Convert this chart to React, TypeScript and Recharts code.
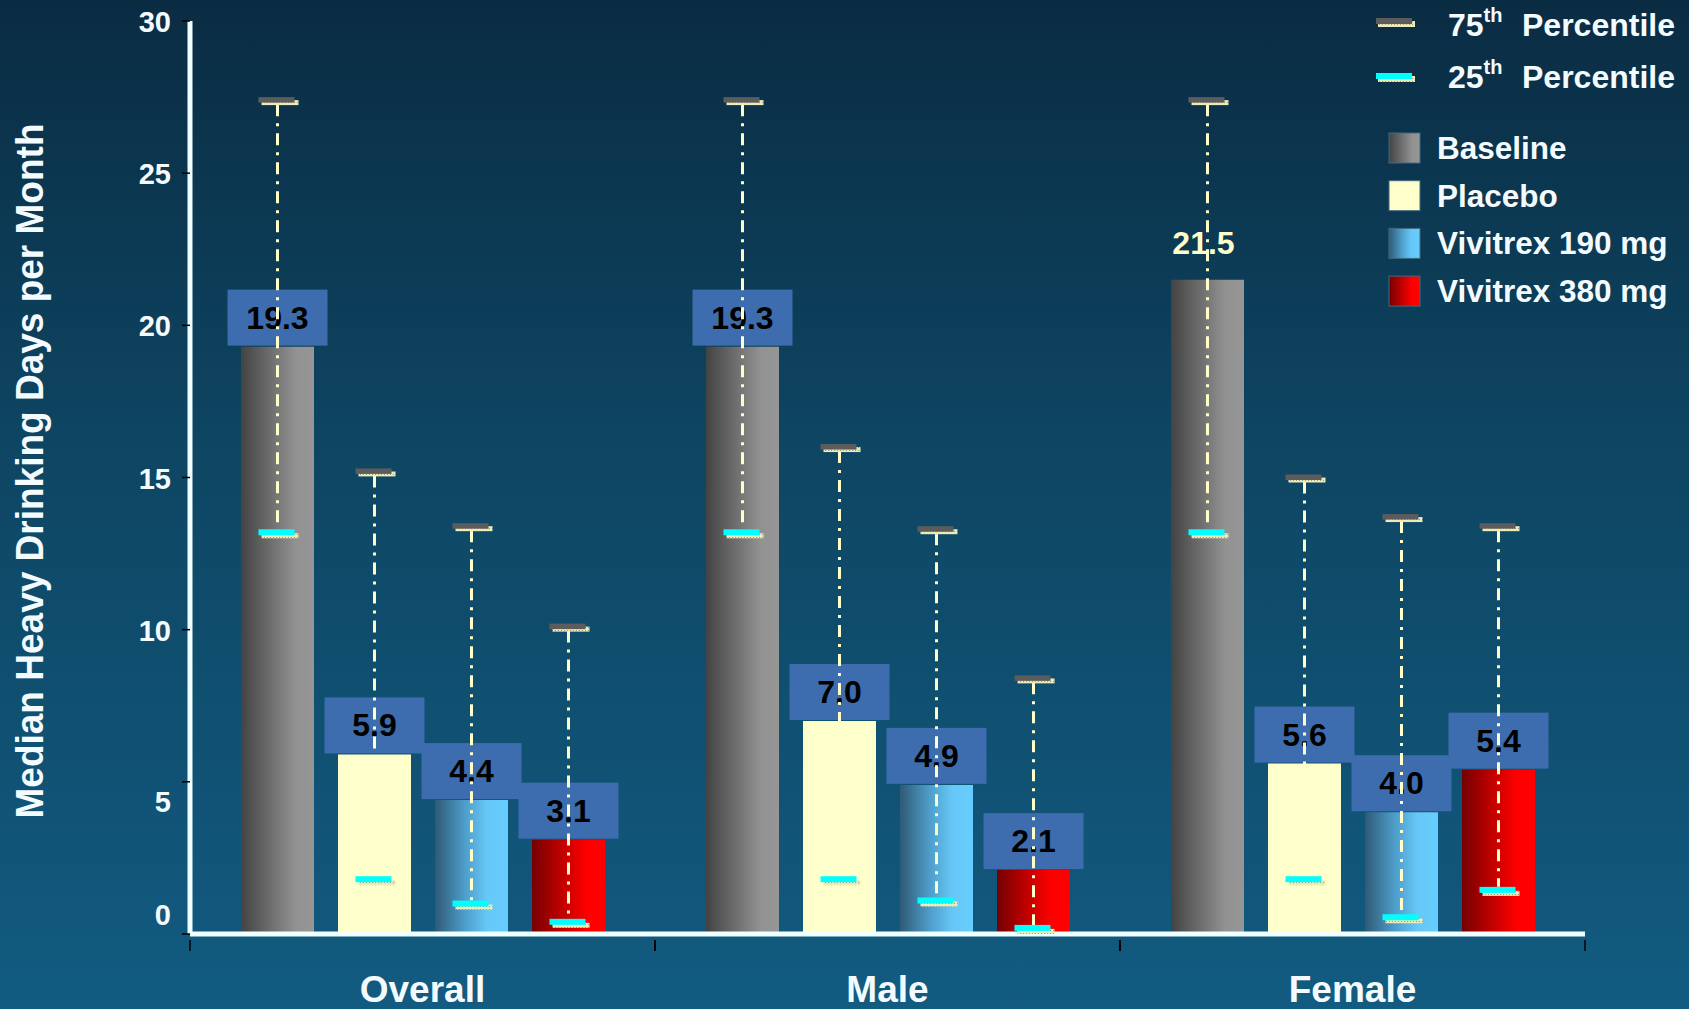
import { BarChart, Bar, XAxis, YAxis, LabelList, Legend } from "recharts";

// values
const categories = ["Overall", "Male", "Female"];
const baseline = [19.3, 19.3, 21.5];
const placebo = [5.9, 7.0, 5.6];
const viv190 = [4.4, 4.9, 4.0];
const viv380 = [3.1, 2.1, 5.4];

// 75th / 25th percentile markers
const baselineP75 = [27.4, 27.4, 27.4];
const placeboP75 = [15.2, 16.0, 15.0];
const viv190P75 = [13.4, 13.3, 13.7];
const viv380P75 = [10.1, 8.4, 13.4];
const baselineP25 = [13.2, 13.2, 13.2];
const placeboP25 = [1.8, 1.8, 1.8];
const viv190P25 = [1.0, 1.1, 0.55];
const viv380P25 = [0.4, 0.2, 1.45];

const yTicks = [0, 5, 10, 15, 20, 25, 30];

const data = categories.map((name, i) => ({
  name,
  baseline: baseline[i],
  placebo: placebo[i],
  viv190: viv190[i],
  viv380: viv380[i],
}));

const series = [
  { key: "baseline", name: "Baseline", fill: "url(#gBase)", p75: baselineP75, p25: baselineP25 },
  { key: "placebo", name: "Placebo", fill: "#ffffcc", p75: placeboP75, p25: placeboP25 },
  { key: "viv190", name: "Vivitrex 190 mg", fill: "url(#gV190)", p75: viv190P75, p25: viv190P25 },
  { key: "viv380", name: "Vivitrex 380 mg", fill: "url(#gV380)", p75: viv380P75, p25: viv380P25 },
];

const FONT = "'Liberation Sans', Arial, sans-serif";
const WHITE = "#f4fbff";
const CREAM = "#ffffcc";

const makeLabel = (s: (typeof series)[number]) => (props: any) => {
  const vb = props.viewBox ?? props;
  const { x, y, width, height } = vb;
  const value = Number(props.value);
  const i = props.index;
  const cx = x + width / 2;
  const base = y + height;
  const unit = height / value;
  const y75 = base - s.p75[i] * unit;
  const y25 = base - s.p25[i] * unit;
  // the tall female baseline bar has its value written plain, without a box
  const plain = s.key === "baseline" && i === 2;
  return (
    <g>
      {plain ? (
        <text x={cx - 4} y={y - 26} textAnchor="middle" fontSize={32} fontWeight="bold" fill={CREAM} fontFamily={FONT}>
          {value.toFixed(1)}
        </text>
      ) : (
        <g>
          <rect x={cx - 50} y={y - 57} width={100} height={56} fill="#3d6daf" />
          <text x={cx} y={y - 18} textAnchor="middle" fontSize={32} fontWeight="bold" fill="#000" fontFamily={FONT}>
            {value.toFixed(1)}
          </text>
        </g>
      )}
      <line x1={cx} x2={cx} y1={y75 + 4} y2={y25 - 3} stroke={CREAM} strokeWidth={3} strokeDasharray="12 7 3 7" />
      <rect x={cx - 16} y={y75} width={37} height={5} fill="url(#dots)" />
      <rect x={cx - 19} y={y75 - 3} width={36} height={5.5} fill="#5c5c5c" />
      <rect x={cx - 16} y={y25 + 1} width={37} height={5} fill="url(#dots)" />
      <rect x={cx - 19} y={y25 - 3} width={36} height={6} fill="#00ffff" />
    </g>
  );
};

const YTick = ({ x, y, payload }: any) => {
  const v = payload.value;
  const shift = v === 5 ? 19 : v === 0 ? -20 : 0;
  return (
    <text x={x} y={y + shift + 11} textAnchor="end" fontSize={29} fontWeight="bold" fill={WHITE} fontFamily={FONT}>
      {v}
    </text>
  );
};

const XTick = ({ x, y, payload }: any) => {
  const off = payload.offset ?? 232.5;
  return (
    <g>
      <line x1={x - off} x2={x - off} y1={y + 4} y2={y + 15} stroke="#000" strokeWidth={1.5} />
      <line x1={x + off} x2={x + off} y1={y + 4} y2={y + 15} stroke="#000" strokeWidth={1.5} />
      <text x={x} y={y + 66} textAnchor="middle" fontSize={37} fontWeight="bold" fill={WHITE} fontFamily={FONT}>
        {payload.value}
      </text>
    </g>
  );
};

const renderLegend = () => (
  <svg width={319} height={320} style={{ fontFamily: FONT }}>
    <rect x={8} y={21} width={37} height={6} fill="url(#dots)" />
    <rect x={6} y={18} width={36} height={6} fill="#5c5c5c" />
    <text x={78} y={36} fontSize={32} fontWeight="bold" fill={WHITE}>
      75<tspan dy={-14} fontSize={20}>th</tspan>
    </text>
    <text x={152} y={36} fontSize={32} fontWeight="bold" fill={WHITE}>Percentile</text>
    <rect x={8} y={76} width={37} height={6} fill="url(#dots)" />
    <rect x={6} y={73} width={36} height={6} fill="#00ffff" />
    <text x={78} y={88} fontSize={32} fontWeight="bold" fill={WHITE}>
      25<tspan dy={-14} fontSize={20}>th</tspan>
    </text>
    <text x={152} y={88} fontSize={32} fontWeight="bold" fill={WHITE}>Percentile</text>
    {series.map((s, i) => (
      <g key={s.key}>
        <rect x={19} y={133 + i * 47.7} width={31} height={30} fill={s.fill} stroke="#3f6a80" strokeWidth={1} />
        <text x={67} y={159 + i * 47.7} fontSize={31.5} fontWeight="bold" fill={WHITE}>
          {s.name}
        </text>
      </g>
    ))}
  </svg>
);

const App = () => {
  return (
    <div
      style={{
        width: 1689,
        height: 1009,
        background: "linear-gradient(180deg, #0a2c43 0%, #0e4663 45%, #125b81 100%)",
        position: "relative",
      }}
    >
      <style>{"body{margin:0}"}</style>
      <BarChart
        width={1689}
        height={1009}
        data={data}
        barSize={73}
        barGap={24}
        margin={{ top: 21, right: 104, bottom: 15, left: 130 }}
      >
        <defs>
          <linearGradient id="gBase" x1="0" y1="0" x2="1" y2="0">
            <stop offset="0" stopColor="#434343" />
            <stop offset="0.75" stopColor="#929292" />
            <stop offset="1" stopColor="#969696" />
          </linearGradient>
          <linearGradient id="gV190" x1="0" y1="0" x2="1" y2="0">
            <stop offset="0" stopColor="#2f5a75" />
            <stop offset="0.4" stopColor="#4e9cc9" />
            <stop offset="0.72" stopColor="#66c8f8" />
            <stop offset="1" stopColor="#66ccff" />
          </linearGradient>
          <linearGradient id="gV380" x1="0" y1="0" x2="1" y2="0">
            <stop offset="0" stopColor="#760000" />
            <stop offset="0.75" stopColor="#ff0000" />
            <stop offset="1" stopColor="#ff0000" />
          </linearGradient>
          <pattern id="dots" width="3" height="3" patternUnits="userSpaceOnUse">
            <rect width="3" height="3" fill="#ecebb8" />
            <rect width="1" height="1" fill="#9c9c86" />
          </pattern>
        </defs>
        <XAxis
          dataKey="name"
          interval={0}
          height={60}
          tickSize={0}
          tickLine={false}
          axisLine={{ stroke: "#f0ffff", strokeWidth: 5 }}
          tick={<XTick />}
        />
        <YAxis
          width={60}
          domain={[0, 30]}
          ticks={yTicks}
          tickSize={8}
          tickMargin={11}
          axisLine={{ stroke: "#f0ffff", strokeWidth: 5 }}
          tickLine={{ stroke: "#000", strokeWidth: 1.5 }}
          tick={<YTick />}
          label={{
            content: () => (
              <text
                transform="translate(43,471) rotate(-90)"
                textAnchor="middle"
                fontSize={38}
                fontWeight="bold"
                fill={WHITE}
                fontFamily={FONT}
                textLength={695}
                lengthAdjust="spacingAndGlyphs"
              >
                Median Heavy Drinking Days per Month
              </text>
            ),
          }}
        />
        <Legend
          layout="horizontal"
          verticalAlign="middle"
          align="center"
          content={renderLegend}
          wrapperStyle={{ position: "absolute", left: 1370, top: 0, width: 319, height: 320 }}
        />
        {series.map((s) => (
          <Bar key={s.key} dataKey={s.key} name={s.name} fill={s.fill} isAnimationActive={false}>
            <LabelList dataKey={s.key} content={makeLabel(s)} />
          </Bar>
        ))}
      </BarChart>
    </div>
  );
};

export default App;
